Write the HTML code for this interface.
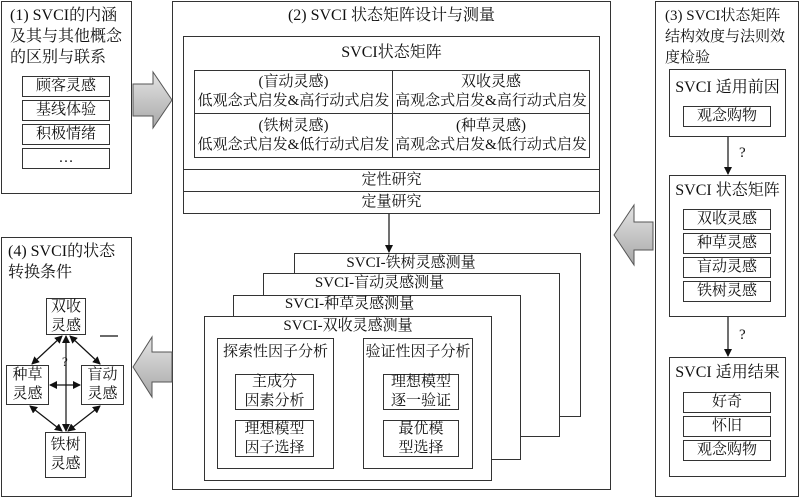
<!DOCTYPE html>
<html><head><meta charset="utf-8"><style>
*{margin:0;padding:0;box-sizing:border-box}
body{width:800px;height:498px;background:#fff;position:relative;overflow:hidden;font-family:"Liberation Serif","Noto Serif CJK SC",serif;font-size:15px;color:#111}
.b{position:absolute;border:1px solid #333;background:#fff}
.c{display:flex;align-items:center;justify-content:center;text-align:center;line-height:19px;white-space:nowrap}
.t{position:absolute;line-height:19px;white-space:nowrap}
svg{position:absolute;left:0;top:0}
</style></head><body>
<!-- Box 1 -->
<div class="b" style="left:1px;top:1px;width:131px;height:193px"></div>
<div class="t" style="left:10px;top:5px;font-size:16px;line-height:21px">(1) SVCI的内涵<br>及其与其他概念<br>的区别与联系</div>
<div class="b c" style="left:22px;top:76px;width:88px;height:21px">顾客灵感</div>
<div class="b c" style="left:22px;top:100px;width:88px;height:21px">基线体验</div>
<div class="b c" style="left:22px;top:124px;width:88px;height:21px">积极情绪</div>
<div class="b c" style="left:22px;top:148px;width:88px;height:21px">…</div>
<!-- Box 4 -->
<div class="b" style="left:1px;top:237px;width:131px;height:260px"></div>
<div class="t" style="left:8px;top:241px;font-size:16px;line-height:21px">(4) SVCI的状态<br>转换条件</div>
<div class="b c" style="left:46px;top:298px;width:40px;height:37px">双收<br>灵感</div>
<div class="b c" style="left:6px;top:365px;width:43px;height:40px">种草<br>灵感</div>
<div class="b c" style="left:81px;top:365px;width:43px;height:40px">盲动<br>灵感</div>
<div class="b c" style="left:45px;top:432px;width:41px;height:46px">铁树<br>灵感</div>
<!-- Box 2 -->
<div class="b" style="left:172px;top:1px;width:439px;height:489px"></div>
<div class="t" style="left:172px;width:439px;text-align:center;top:6px;font-size:16px">(2) SVCI 状态矩阵设计与测量</div>
<div class="b" style="left:183px;top:36px;width:417px;height:178px"></div>
<div class="t" style="left:183px;width:417px;text-align:center;top:43px;font-size:16px">SVCI状态矩阵</div>
<div class="b c" style="left:194px;top:70px;width:199px;height:44px">(盲动灵感)<br>低观念式启发&amp;高行动式启发</div>
<div class="b c" style="left:392px;top:70px;width:198px;height:44px">双收灵感<br>高观念式启发&amp;高行动式启发</div>
<div class="b c" style="left:194px;top:113px;width:199px;height:45px">(铁树灵感)<br>低观念式启发&amp;低行动式启发</div>
<div class="b c" style="left:392px;top:113px;width:198px;height:45px">(种草灵感)<br>高观念式启发&amp;低行动式启发</div>
<div class="b c" style="left:183px;top:169px;width:417px;height:23px">定性研究</div>
<div class="b c" style="left:183px;top:191px;width:417px;height:23px">定量研究</div>
<div class="b" style="left:294px;top:253px;width:287px;height:164px"></div>
<div class="t" style="left:294px;width:234px;text-align:center;top:254px">SVCI-铁树灵感测量</div>
<div class="b" style="left:263px;top:273px;width:297px;height:164px"></div>
<div class="t" style="left:263px;width:233px;text-align:center;top:274px">SVCI-盲动灵感测量</div>
<div class="b" style="left:233px;top:295px;width:288px;height:165px"></div>
<div class="t" style="left:233px;width:233px;text-align:center;top:295px">SVCI-种草灵感测量</div>
<div class="b" style="left:204px;top:316px;width:288px;height:165px"></div>
<div class="t" style="left:204px;width:288px;text-align:center;top:317px">SVCI-双收灵感测量</div>
<div class="b" style="left:217px;top:338px;width:117px;height:131px"></div>
<div class="t" style="left:217px;width:117px;text-align:center;top:343px">探索性因子分析</div>
<div class="b c" style="left:235px;top:374px;width:79px;height:36px">主成分<br>因素分析</div>
<div class="b c" style="left:235px;top:420px;width:79px;height:37px">理想模型<br>因子选择</div>
<div class="b" style="left:363px;top:338px;width:110px;height:131px"></div>
<div class="t" style="left:363px;width:110px;text-align:center;top:343px">验证性因子分析</div>
<div class="b c" style="left:383px;top:374px;width:76px;height:36px">理想模型<br>逐一验证</div>
<div class="b c" style="left:383px;top:420px;width:76px;height:37px">最优模<br>型选择</div>
<!-- Box 3 -->
<div class="b" style="left:655px;top:1px;width:144px;height:496px"></div>
<div class="t" style="left:665px;top:6px;font-size:15px;line-height:21px">(3) SVCI状态矩阵<br>结构效度与法则效<br>度检验</div>
<div class="b" style="left:669px;top:69px;width:117px;height:68px"></div>
<div class="t" style="left:669px;width:117px;text-align:center;top:78px;font-size:16px">SVCI 适用前因</div>
<div class="b c" style="left:683px;top:106px;width:88px;height:21px">观念购物</div>
<div class="b" style="left:669px;top:175px;width:117px;height:142px"></div>
<div class="t" style="left:669px;width:117px;text-align:center;top:181px;font-size:16px">SVCI 状态矩阵</div>
<div class="b c" style="left:683px;top:209px;width:88px;height:21px">双收灵感</div>
<div class="b c" style="left:683px;top:233px;width:88px;height:21px">种草灵感</div>
<div class="b c" style="left:683px;top:257px;width:88px;height:21px">盲动灵感</div>
<div class="b c" style="left:683px;top:281px;width:88px;height:21px">铁树灵感</div>
<div class="b" style="left:669px;top:357px;width:117px;height:120px"></div>
<div class="t" style="left:669px;width:117px;text-align:center;top:363px;font-size:16px">SVCI 适用结果</div>
<div class="b c" style="left:683px;top:392px;width:88px;height:21px">好奇</div>
<div class="b c" style="left:683px;top:416px;width:88px;height:21px">怀旧</div>
<div class="b c" style="left:683px;top:440px;width:88px;height:21px">观念购物</div>
<div class="t" style="left:739px;top:144px">?</div>
<div class="t" style="left:739px;top:326px">?</div>
<div class="t" style="left:62px;top:352px;font-size:13px">?</div>
<svg width="800" height="498">
<defs>
<linearGradient id="g" x1="0" y1="0" x2="0" y2="1"><stop offset="0" stop-color="#e4e4e4"/><stop offset="1" stop-color="#a8a8a8"/></linearGradient>
<marker id="a" markerWidth="8" markerHeight="8" refX="7" refY="4" orient="auto-start-reverse" markerUnits="userSpaceOnUse"><path d="M0,0 L8,4 L0,8 Z" fill="#111"/></marker>
</defs>
<polygon points="133,84 153,84 153,72 172,100 153,128 153,116 133,116" fill="url(#g)" stroke="#555"/>
<polygon points="172,352 152,352 152,337 133,367 152,397 152,382 172,382" fill="url(#g)" stroke="#555"/>
<polygon points="653,222 634,222 634,205 614,235 634,265 634,250 653,250" fill="url(#g)" stroke="#555"/>
<g stroke="#111" stroke-width="1.2" fill="none">
<line x1="389" y1="214" x2="389" y2="252" marker-end="url(#a)"/>
<line x1="728" y1="137" x2="728" y2="174" marker-end="url(#a)"/>
<line x1="728" y1="317" x2="728" y2="356" marker-end="url(#a)"/>
<line x1="62" y1="336" x2="32" y2="364" marker-start="url(#a)" marker-end="url(#a)"/>
<line x1="70" y1="336" x2="100" y2="364" marker-start="url(#a)" marker-end="url(#a)"/>
<line x1="30" y1="406" x2="62" y2="431" marker-start="url(#a)" marker-end="url(#a)"/>
<line x1="100" y1="406" x2="68" y2="431" marker-start="url(#a)" marker-end="url(#a)"/>
<line x1="50" y1="385" x2="80" y2="385" marker-start="url(#a)" marker-end="url(#a)"/>
<line x1="66" y1="336" x2="66" y2="431" marker-start="url(#a)" marker-end="url(#a)"/>
<line x1="100" y1="336" x2="118" y2="336"/>
</g>
</svg>
</body></html>
